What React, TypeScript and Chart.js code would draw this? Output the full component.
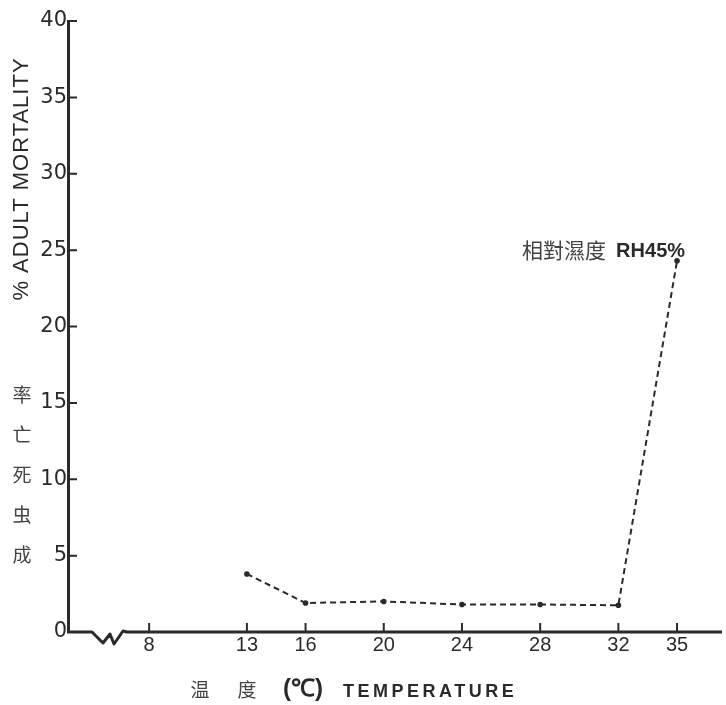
import React, { useEffect, useRef } from "react";
import { Chart, registerables } from "chart.js";

Chart.register(...registerables);

// Temperature (°C) and adult mortality (%) at RH 45%
const temps = [13, 16, 20, 24, 28, 32, 35];
const mortality = [3.8, 1.9, 2.0, 1.8, 1.8, 1.75, 24.3];

// Axis ticks
const xTickValues = [8, 13, 16, 20, 24, 28, 32, 35];
const yTickStep = 5;
const yMax = 40;

// Texts
const yTitleEn = "% ADULT MORTALITY";
const yTitleZh = "成虫死亡率";
const xTitleZh = ["温", "度"];
const xTitleUnit = "(℃)";
const xTitleEn = "TEMPERATURE";
const seriesLabelZh = "相對濕度";
const seriesLabelEn = "RH45%";

const INK = "#2a2a2a";
const CJK = '"Noto Sans CJK TC", "Noto Sans CJK SC", sans-serif';
const SANS = '"Liberation Sans", Arial, sans-serif';
const WIDE = '"DejaVu Sans", sans-serif';

const decorPlugin = {
  id: "decor",
  afterDraw(chart: any) {
    const { ctx, chartArea, scales } = chart;
    const { left, right, bottom } = chartArea;
    const xs = scales.x;
    const ys = scales.y;
    ctx.save();

    // base line with axis break
    ctx.strokeStyle = INK;
    ctx.lineWidth = 3;
    ctx.lineJoin = "round";
    ctx.beginPath();
    ctx.moveTo(left - 1, bottom);
    ctx.lineTo(left + 24, bottom);
    ctx.lineTo(left + 35, bottom + 11);
    ctx.lineTo(left + 42, bottom + 2);
    ctx.lineTo(left + 46, bottom + 12);
    ctx.lineTo(left + 55, bottom - 1);
    ctx.lineTo(left + 59, bottom);
    ctx.lineTo(right, bottom);
    ctx.stroke();

    // inward tick marks
    ctx.lineWidth = 2;
    ctx.beginPath();
    for (let v = yTickStep; v <= yMax; v += yTickStep) {
      const py = ys.getPixelForValue(v);
      ctx.moveTo(left, py);
      ctx.lineTo(left + 9, py);
    }
    for (const v of xTickValues) {
      const px = xs.getPixelForValue(v);
      ctx.moveTo(px, bottom);
      ctx.lineTo(px, bottom - 9);
    }
    ctx.stroke();

    ctx.fillStyle = INK;

    // y title, English, rotated
    ctx.save();
    ctx.translate(22, 179);
    ctx.rotate(-Math.PI / 2);
    ctx.font = `22px ${SANS}`;
    (ctx as any).letterSpacing = "1px";
    ctx.textAlign = "center";
    ctx.textBaseline = "middle";
    ctx.fillText(yTitleEn, 0, 0);
    ctx.restore();

    // y title, Chinese, stacked upright (bottom to top)
    ctx.save();
    ctx.font = `19px ${CJK}`;
    ctx.fillStyle = "#444";
    ctx.textAlign = "center";
    ctx.textBaseline = "middle";
    Array.from(yTitleZh).forEach((ch, i) => {
      ctx.fillText(ch, 22, 555 - i * 40);
    });
    ctx.restore();

    // x title
    ctx.save();
    ctx.textBaseline = "middle";
    ctx.textAlign = "center";
    ctx.font = `19px ${CJK}`;
    ctx.fillStyle = "#444";
    ctx.fillText(xTitleZh[0], 200, 690);
    ctx.fillText(xTitleZh[1], 247, 690);
    ctx.fillStyle = INK;
    ctx.font = `bold 24px ${SANS}`;
    ctx.fillText(xTitleUnit, 303, 689);
    ctx.textAlign = "left";
    ctx.font = `bold 18px ${SANS}`;
    (ctx as any).letterSpacing = "3.5px";
    ctx.fillText(xTitleEn, 343, 692);
    ctx.restore();

    // series label near the last point
    const meta = chart.getDatasetMeta(0);
    const last = meta.data[meta.data.length - 1];
    if (last) {
      ctx.save();
      ctx.textBaseline = "alphabetic";
      ctx.textAlign = "right";
      ctx.font = `bold 20px ${SANS}`;
      ctx.fillStyle = INK;
      const enRight = last.x + 8;
      const base = last.y - 4;
      ctx.fillText(seriesLabelEn, enRight, base);
      const enW = ctx.measureText(seriesLabelEn).width;
      ctx.font = `21px ${CJK}`;
      ctx.fillStyle = "#444";
      ctx.fillText(seriesLabelZh, enRight - enW - 10, base + 1);
      ctx.restore();
    }

    ctx.restore();
  },
};

export default function App() {
  const ref = useRef<HTMLCanvasElement>(null);

  useEffect(() => {
    if (!ref.current) return;
    const chart = new Chart(ref.current, {
      type: "line",
      data: {
        datasets: [
          {
            data: temps.map((t, i) => ({ x: t, y: mortality[i] })),
            borderColor: INK,
            borderWidth: 2,
            borderDash: [6, 4],
            pointRadius: 2.8,
            pointBackgroundColor: INK,
            pointBorderColor: INK,
            pointBorderWidth: 0,
            tension: 0,
            fill: false,
          },
        ],
      },
      options: {
        responsive: false,
        animation: false,
        devicePixelRatio: 1,
        layout: { padding: { top: 21, right: 0, left: 0, bottom: 0 } },
        plugins: {
          legend: { display: false },
          tooltip: { enabled: false },
          title: { display: false },
        },
        scales: {
          x: {
            type: "linear",
            min: 3.85,
            max: 37.3,
            afterBuildTicks: (scale: any) => {
              scale.ticks = xTickValues.map((v) => ({ value: v }));
            },
            afterFit: (scale: any) => {
              scale.height = 73;
            },
            grid: { display: false, drawTicks: false },
            border: { display: false },
            ticks: {
              padding: 1,
              autoSkip: false,
              maxRotation: 0,
              color: INK,
              font: { family: SANS, size: 20 },
              callback: (v: any) => String(v),
            },
          },
          y: {
            min: 0,
            max: yMax,
            afterFit: (scale: any) => {
              scale.width = 68;
            },
            grid: { display: false, drawTicks: false },
            border: { display: true, color: INK, width: 3 },
            ticks: {
              stepSize: yTickStep,
              padding: 1,
              color: INK,
              font: { family: WIDE, size: 21 },
            },
          },
        },
      },
      plugins: [decorPlugin],
    });
    return () => chart.destroy();
  }, []);

  return (
    <div style={{ position: "fixed", left: 0, top: 0, width: 726, height: 705, background: "#fff" }}>
      <canvas ref={ref} width={726} height={705} style={{ display: "block" }} />
    </div>
  );
}
